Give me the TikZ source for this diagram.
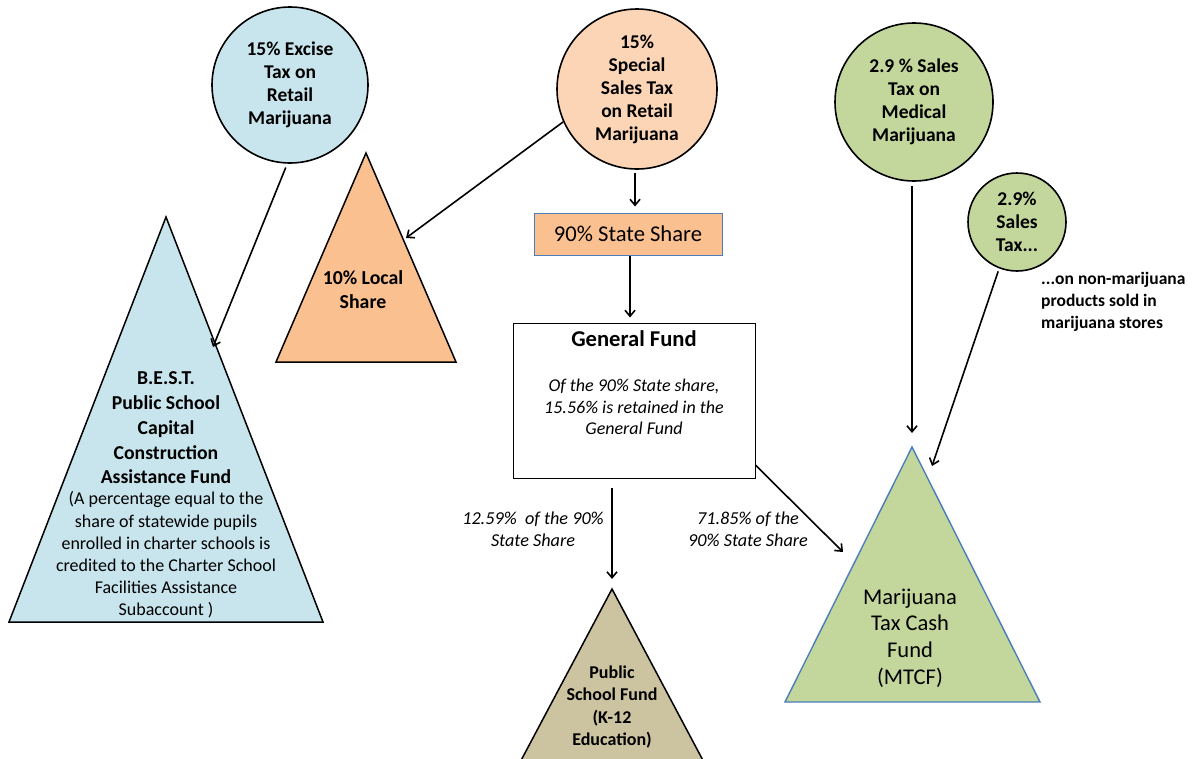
\documentclass[tikz,border=0pt]{standalone}
\usepackage{fontspec}
\setmainfont{Carlito}
\usepackage{xcolor}
\usepackage{tikz}
\usetikzlibrary{positioning,arrows.meta}

\definecolor{exciseblue}{HTML}{C8E4EC}
\definecolor{salespeach}{HTML}{FBD5B5}
\definecolor{shareorange}{HTML}{FAC090}
\definecolor{medgreen}{HTML}{C3D69B}
\definecolor{schooltan}{HTML}{CCC3A0}
\definecolor{edgeblue}{HTML}{4A7EBB}

\begin{document}
\begin{tikzpicture}[x=1pt,y=-1pt,
  taxcircle/.style={circle, draw=black, line width=1.6pt, inner sep=0pt, align=center,
    font=\fontsize{19.5}{23}\selectfont\bfseries},
  fundtri/.style={draw=black, line width=1.5pt},
  flow/.style={-{Straight Barb[length=6pt,width=10pt]}, line width=1.6pt},
  txt/.style={inner sep=0pt, align=center}]
\useasboundingbox (0,0) rectangle (1193,758);

% tax sources
\node[taxcircle, fill=exciseblue, minimum size=156pt] (excise) at (290,85)
  {15\% Excise\\Tax on\\Retail\\Marijuana};
\node[taxcircle, fill=salespeach, minimum size=160pt] (special) at (637,89)
  {15\%\\Special\\Sales Tax\\on Retail\\Marijuana};
\node[taxcircle, fill=medgreen, minimum size=158pt] (medical) at (914,102)
  {2.9 \% Sales\\Tax on\\Medical\\Marijuana};
\node[taxcircle, fill=medgreen, minimum size=98pt] (nonmj) at (1017,222)
  {2.9\%\\Sales\\Tax...};
\node[txt, anchor=west, align=left, font=\fontsize{17.5}{22}\selectfont\bfseries] (nonmjnote) at (1041,302)
  {...on non-marijuana\\products sold in\\marijuana stores};

% state share and general fund
\node[draw=edgeblue, line width=1pt, fill=shareorange, minimum width=188pt, minimum height=42pt,
  inner sep=0pt, font=\fontsize{22.6}{26}\selectfont] (state) at (628,234) {90\% State Share};
\node[draw=black, line width=1pt, fill=white, minimum width=242pt, minimum height=155pt] (gf) at (634,400.5) {};
\node[txt, font=\fontsize{22.6}{26}\selectfont\bfseries] (gftitle) at (634,339) {General Fund};
\node[txt, font=\fontsize{18}{21.5}\selectfont\itshape] (gfnote) at (634,407)
  {Of the 90\% State share,\\15.56\% is retained in the\\General Fund};

% funds
\filldraw[fundtri, fill=exciseblue] (166,217) -- (9,622) -- (323,622) -- cycle;
\node[txt, font=\fontsize{19.7}{24.7}\selectfont\bfseries] (best) at (166,428)
  {B.E.S.T.\\Public School\\Capital\\Construction\\Assistance Fund};
\node[txt, font=\fontsize{18}{22.2}\selectfont] (bestnote) at (166,555)
  {(A percentage equal to the\\share of statewide pupils\\enrolled in charter schools is\\credited to the Charter School\\Facilities Assistance\\Subaccount )};

\filldraw[fundtri, fill=shareorange] (366,153) -- (276,362) -- (456,362) -- cycle;
\node[txt, font=\fontsize{19.8}{24}\selectfont\bfseries] (local) at (363,290) {10\% Local\\Share};

\begin{scope}
\clip (0,0) rectangle (1193,758);
\filldraw[fundtri, fill=schooltan] (612,589) -- (500,800) -- (724,800) -- cycle;
\end{scope}
\node[txt, font=\fontsize{18}{22.3}\selectfont\bfseries] (psf) at (612,707)
  {Public\\School Fund\\(K-12\\Education)};

\filldraw[draw=edgeblue, line width=1.4pt, fill=medgreen] (912,447) -- (785,702) -- (1040,702) -- cycle;
\node[txt, font=\fontsize{22.5}{26.7}\selectfont] (mtcf) at (910,638)
  {Marijuana\\Tax Cash\\Fund\\(MTCF)};

% split labels
\node[txt, font=\fontsize{18.2}{22}\selectfont\itshape] (k12share) at (533,529)
  {12.59\%~ of the 90\%\\State Share};
\node[txt, font=\fontsize{18.2}{22}\selectfont\itshape] (mtcfshare) at (748,529)
  {71.85\% of the\\90\% State Share};

% arrow ends
\coordinate (bestin) at (213,347);
\coordinate (localin) at (406,238);
\coordinate (psftop) at (612,589);
\coordinate (mtcftop) at (912,447);
\coordinate (mtcfleft) at (843,552);
\coordinate (mtcfright) at (932,466);

% flows
\draw[flow, shorten <=4pt] (excise.268) -- (bestin);
\draw[flow] (special.204) -- (localin);
\draw[flow, shorten <=3pt, shorten >=6pt] (special.south -| 635,0) -- (state.north -| 635,0);
\draw[flow, shorten >=5pt] (state.south -| 630,0) -- (gf.north -| 630,0);
\draw[flow, shorten <=9pt, shorten >=10pt] (gf.south -| psftop) -- (psftop);
\draw[flow] (gf.-28) -- (mtcfleft);
\draw[flow, shorten <=4pt, shorten >=14pt] (medical.south -| mtcftop) -- (mtcftop);
\draw[flow, shorten <=3pt] (nonmj.249) -- (mtcfright);
\end{tikzpicture}
\end{document}
